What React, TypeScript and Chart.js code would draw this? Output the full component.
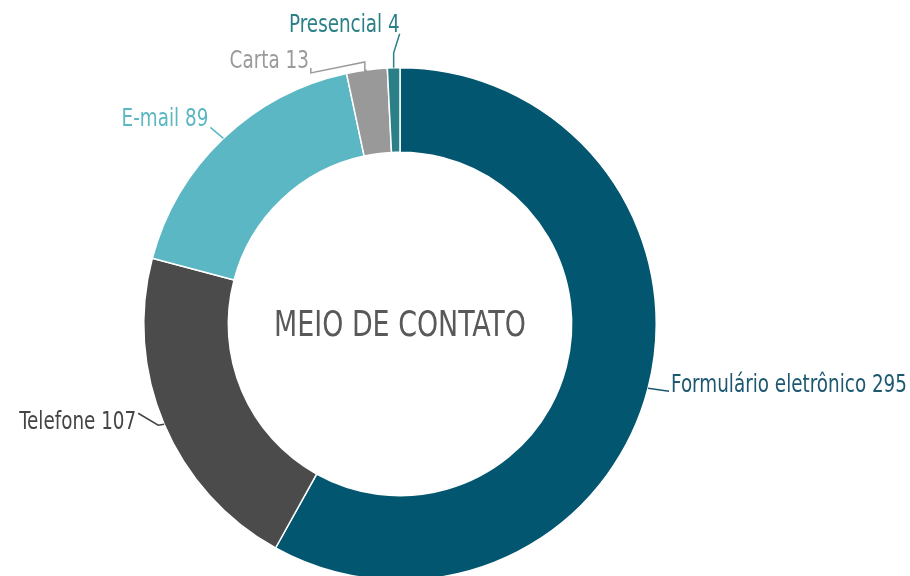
import React, { useEffect, useRef } from "react";
import { Chart, registerables } from "chart.js";

Chart.register(...registerables);

const categories = ["Formulário eletrônico", "Telefone", "E-mail", "Carta", "Presencial"];
const values = [295, 107, 89, 13, 4];
const sliceColors = ["#02566f", "#4b4b4b", "#5bb7c4", "#999999", "#2a8086"];
const labelColors = ["#1d5870", "#444444", "#5bb7c4", "#9a9a9a", "#2a8086"];
const centerTitle = "MEIO DE CONTATO";

// leader line layout (offsets from the slice's outer mid-point) and text placement
const leaderLayout = [
  { path: [[21, 3]], text: [23, 4], align: "left" },
  { path: [[-6, 1], [-26, -11]], text: [-28, 5], align: "right" },
  { path: [[-13, -11]], text: [-15, -12], align: "right" },
  { path: [[-2, 1], [-2, -8], [-56, 3], [-56, -2]], text: [-58, -2], align: "right" },
  { path: [[0, -15], [6, -34]], text: [6, -36], align: "right" },
];

const FONT = "'DejaVu Sans Condensed', 'Liberation Sans Narrow', sans-serif";
const LABEL_SQUEEZE = 0.85;
const TITLE_SQUEEZE = 0.83;

const labelPlugin = {
  id: "leaderLabels",
  afterDraw(chart: any) {
    const ctx = chart.ctx;
    const meta = chart.getDatasetMeta(0);
    ctx.save();
    meta.data.forEach((arc: any, i: number) => {
      const { x, y, startAngle, endAngle, outerRadius } = arc.getProps(
        ["x", "y", "startAngle", "endAngle", "outerRadius"],
        true
      );
      const mid = (startAngle + endAngle) / 2;
      const ax = x + Math.cos(mid) * outerRadius;
      const ay = y + Math.sin(mid) * outerRadius;
      const lay = leaderLayout[i];
      ctx.strokeStyle = labelColors[i];
      ctx.lineWidth = 1.5;
      ctx.beginPath();
      ctx.moveTo(ax, ay);
      lay.path.forEach((p) => ctx.lineTo(ax + p[0], ay + p[1]));
      ctx.stroke();
      ctx.save();
      ctx.translate(ax + lay.text[0], ay + lay.text[1]);
      ctx.scale(LABEL_SQUEEZE, 1);
      ctx.fillStyle = labelColors[i];
      ctx.font = `24px ${FONT}`;
      ctx.textAlign = lay.align as CanvasTextAlign;
      ctx.textBaseline = "alphabetic";
      ctx.fillText(`${categories[i]} ${values[i]}`, 0, 0);
      ctx.restore();
    });
    const a0 = meta.data[0];
    ctx.save();
    ctx.translate(a0.x, a0.y + 3);
    ctx.scale(TITLE_SQUEEZE, 1);
    ctx.fillStyle = "#595959";
    ctx.font = `36px ${FONT}`;
    ctx.textAlign = "center";
    ctx.textBaseline = "middle";
    ctx.fillText(centerTitle, 0, 0);
    ctx.restore();
    ctx.restore();
  },
};

export default function App() {
  const ref = useRef<HTMLCanvasElement>(null);
  useEffect(() => {
    const chart = new Chart(ref.current!, {
      type: "doughnut",
      data: {
        labels: categories,
        datasets: [
          {
            data: values,
            backgroundColor: sliceColors,
            borderColor: "#ffffff",
            borderWidth: 1.5,
          },
        ],
      },
      options: {
        responsive: false,
        animation: false,
        cutout: "67%",
        layout: { padding: { top: 67, bottom: 19, left: 143, right: 253 } },
        plugins: { legend: { display: false }, tooltip: { enabled: false } },
      },
      plugins: [labelPlugin],
    });
    return () => chart.destroy();
  }, []);
  return (
    <div
      style={{
        position: "absolute",
        left: 0,
        top: 0,
        width: 910,
        height: 576,
        overflow: "hidden",
        background: "#fff",
      }}
    >
      <canvas ref={ref} width={910} height={600} />
    </div>
  );
}
